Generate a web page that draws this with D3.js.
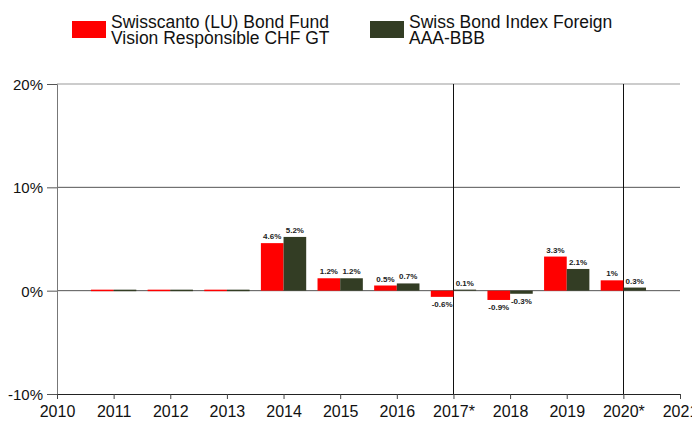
<!DOCTYPE html>
<html>
<head>
<meta charset="utf-8">
<script src="https://cdn.jsdelivr.net/npm/d3@7"></script>
<style>
  body { margin: 0; background: #fff; }
  svg { font-family: "Liberation Sans", Arial, sans-serif; }
</style>
</head>
<body>
<div id="chart"></div>
<script>
// data
const years = [2011, 2012, 2013, 2014, 2015, 2016, 2017, 2018, 2019, 2020];
const fundValues = [0, 0, 0, 4.6, 1.2, 0.5, -0.6, -0.9, 3.3, 1.0];
const indexValues = [0, 0, 0, 5.2, 1.2, 0.7, 0.1, -0.3, 2.1, 0.3];
const tickYears = [2010, 2011, 2012, 2013, 2014, 2015, 2016, 2017, 2018, 2019, 2020, 2021];
const tickLabels = ["2010", "2011", "2012", "2013", "2014", "2015", "2016", "2017*", "2018", "2019", "2020*", "2021"];
const yTicks = [-10, 0, 10, 20];
const markedYears = [2017, 2020];
const seriesNames = [
    ["Swisscanto (LU) Bond Fund", "Vision Responsible CHF GT"],
    ["Swiss Bond Index Foreign", "AAA-BBB"]
];

const W = 692, H = 423;
const margin = { top: 84, right: 12, bottom: 29, left: 57 };
const colors = ["#ff0000", "#333d24"];

const svg = d3.select("#chart").append("svg")
    .attr("width", W)
    .attr("height", H);

const x = d3.scaleLinear().domain([2010, 2021]).range([margin.left, W - margin.right]);
const y = d3.scaleLinear().domain([-10, 20]).range([H - margin.bottom, margin.top]);
const barW = (x(2011) - x(2010)) * 0.4;

// horizontal gridlines
svg.append("g").selectAll("line")
    .data(yTicks.filter(d => d > -10))
    .enter().append("line")
    .attr("x1", x(2010)).attr("x2", x(2021))
    .attr("y1", d => y(d)).attr("y2", d => y(d))
    .attr("stroke", d => d === 20 ? "#999" : "#555")
    .attr("stroke-width", 1);

// vertical marker lines
svg.append("g").selectAll("line")
    .data(markedYears)
    .enter().append("line")
    .attr("x1", d => Math.round(x(d)) + 0.5).attr("x2", d => Math.round(x(d)) + 0.5)
    .attr("y1", y(20)).attr("y2", y(-10))
    .attr("stroke", "#111")
    .attr("stroke-width", 1);

// bars
const series = [fundValues, indexValues];
series.forEach((vals, s) => {
    const data = years.map((yr, i) => ({ yr, v: vals[i] }));
    const g = svg.append("g");
    g.selectAll("rect")
        .data(data)
        .enter().append("rect")
        .attr("x", d => x(d.yr) - barW + s * barW)
        .attr("y", d => d.v === 0 ? y(0) - 1 : y(Math.max(0, d.v)))
        .attr("width", barW)
        .attr("height", d => d.v === 0 ? 1.5 : Math.abs(y(d.v) - y(0)))
        .attr("fill", colors[s]);

    // value labels (zero years have none)
    g.selectAll("text")
        .data(data.filter(d => d.v !== 0))
        .enter().append("text")
        .attr("x", d => x(d.yr) - barW / 2 + s * barW)
        .attr("y", d => d.v > 0 ? y(d.v) - 4 : y(d.v) + 10)
        .attr("text-anchor", "middle")
        .style("font-size", "8px")
        .style("font-weight", "bold")
        .attr("fill", "#222")
        .text(d => d.v + "%");
});

// y axis
const yAxis = svg.append("g")
    .attr("transform", `translate(${margin.left},0)`)
    .call(d3.axisLeft(y).tickValues(yTicks).tickSize(10).tickFormat(d => d + "%"));
yAxis.select(".domain").attr("stroke", "#777");
yAxis.selectAll(".tick line").attr("stroke", "#555");
yAxis.selectAll("text").style("font-size", "15px").attr("fill", "#111").attr("x", -14).attr("dy", "0.36em");

// x axis
const xAxis = svg.append("g")
    .attr("transform", `translate(0,${y(-10)})`)
    .call(d3.axisBottom(x).tickValues(tickYears).tickSize(5).tickSizeOuter(0)
        .tickFormat((d, i) => tickLabels[i]));
xAxis.select(".domain").attr("stroke", "#222");
xAxis.selectAll(".tick line").attr("stroke", "#444");
xAxis.selectAll("text").style("font-size", "16px").attr("fill", "#111").attr("y", 12);

// legend
const legendX = [72, 370];
seriesNames.forEach((lines, i) => {
    const lg = svg.append("g").attr("transform", `translate(${legendX[i]},0)`);
    lg.append("rect")
        .attr("x", 0).attr("y", 21)
        .attr("width", 34).attr("height", 17)
        .attr("fill", colors[i]);
    lines.forEach((t, j) => {
        lg.append("text")
            .attr("x", 39)
            .attr("y", 27.5 + j * 16.5)
            .style("font-size", "17.5px")
            .attr("fill", "#111")
            .text(t);
    });
});
</script>
</body>
</html>
